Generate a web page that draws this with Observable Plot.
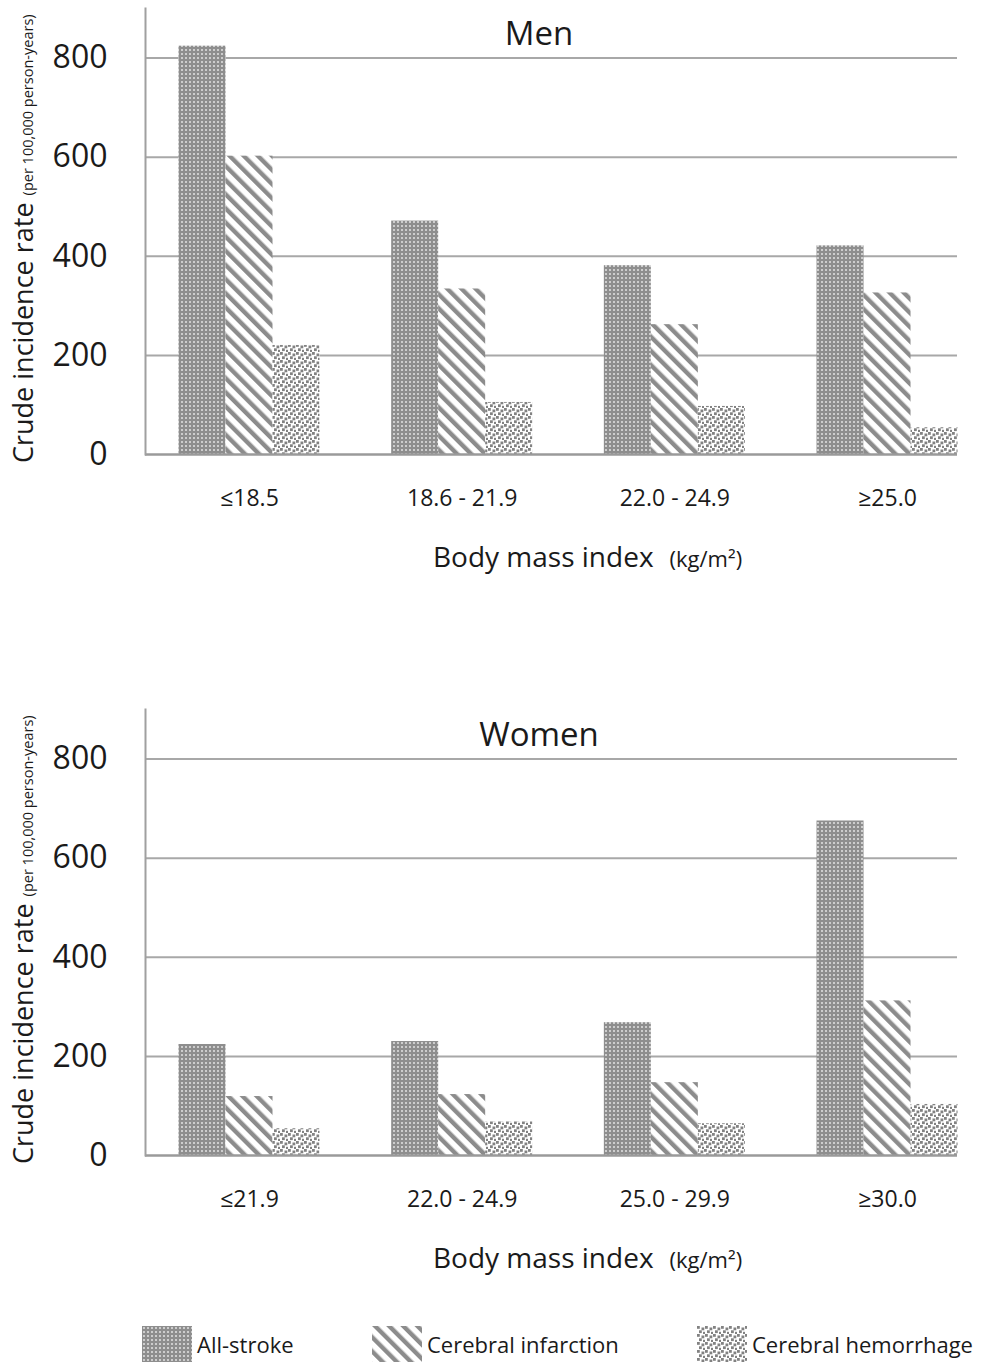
<!DOCTYPE html>
<html>
<head>
<meta charset="utf-8">
<script src="https://cdn.jsdelivr.net/npm/d3@7"></script>
<script src="https://cdn.jsdelivr.net/npm/@observablehq/plot@0.6"></script>
<style>
  body { margin: 0; background: #fff; font-family: "Open Sans", sans-serif; color: #1a1a1a; }
  #wrap { position: relative; width: 981px; height: 1364px; overflow: hidden; }
  #men { position: absolute; left: 0; top: 0; }
  #women { position: absolute; left: 0; top: 701px; }
  .leg { position: absolute; top: 1326px; height: 36px; display: flex; align-items: center; font-size: 22px; color: #1a1a1a; white-space: nowrap; }
  .leg svg { display: block; margin-right: 5px; }
</style>
</head>
<body>
<svg width="0" height="0" style="position:absolute">
  <defs>
    <pattern id="pat-all" patternUnits="userSpaceOnUse" width="4" height="4">
      <rect width="4" height="4" fill="#8e8e8e"/>
      <rect x="1" y="1" width="2" height="2" fill="#cdcdcd"/>
    </pattern>
    <pattern id="pat-inf" patternUnits="userSpaceOnUse" width="10" height="10" patternTransform="rotate(-45)">
      <rect width="10" height="10" fill="#ffffff"/>
      <rect width="4.4" height="10" fill="#8c8c8c"/>
    </pattern>
    <pattern id="pat-hem" patternUnits="userSpaceOnUse" width="8" height="8">
      <rect width="8" height="8" fill="#ffffff"/>
      <rect x="0" y="0" width="2.8" height="2.8" fill="#828282"/>
      <rect x="4.5" y="1.5" width="2.8" height="2.8" fill="#828282"/>
      <rect x="2" y="4.3" width="2.8" height="2.8" fill="#828282"/>
      <rect x="6" y="5.8" width="2.8" height="2.8" fill="#828282"/>
    </pattern>
  </defs>
</svg>
<div id="wrap">
  <div id="men"></div>
  <div id="women"></div>
  <div id="legend"></div>
</div>
<script>
// ---- data ----
const series = ["All-stroke", "Cerebral infarction", "Cerebral hemorrhage"];
const seriesFill = ["url(#pat-all)", "url(#pat-inf)", "url(#pat-hem)"];

const menCategories = ["≤18.5", "18.6 - 21.9", "22.0 - 24.9", "≥25.0"];
const menAllStroke = [824, 471, 381, 421];
const menInfarction = [602, 334, 262, 326];
const menHemorrhage = [220, 105, 97, 54];

const womenCategories = ["≤21.9", "22.0 - 24.9", "25.0 - 29.9", "≥30.0"];
const womenAllStroke = [224, 230, 268, 675];
const womenInfarction = [119, 123, 147, 312];
const womenHemorrhage = [54, 68, 64, 103];

const yTicks = [0, 200, 400, 600, 800];
const yDomain = [0, 900];

const yLabelMain = "Crude incidence rate ";
const yLabelSub = "(per 100,000 person-years)";
const xLabelMain = "Body mass index";
const xLabelSub = "(kg/m²)";

// layout: each category occupies one unit on a linear x scale; bars share 0.663 of it
const barWidth = 0.221;
const xDomain = [-0.489, 3.329];

function panel(title, cats, vals) {
  const rows = [];
  cats.forEach((c, i) => series.forEach((s, j) => rows.push({
    cat: c, series: s, value: vals[j][i], fill: seriesFill[j],
    x1: i - 1.5 * barWidth + j * barWidth,
    x2: i - 0.5 * barWidth + j * barWidth
  })));
  const chart = Plot.plot({
    width: 981,
    height: 600,
    marginLeft: 145,
    marginRight: 24,
    marginTop: 8,
    marginBottom: 146,
    style: {fontFamily: '"Open Sans", sans-serif', color: "#1a1a1a", background: "transparent", overflow: "visible"},
    x: {domain: xDomain, axis: null},
    y: {domain: yDomain, axis: null},
    color: {type: "identity"},
    marks: [
      Plot.ruleY(yTicks.filter(d => d > 0), {stroke: "#a8a8a8", strokeWidth: 2}),
      Plot.rect(rows, {x1: "x1", x2: "x2", y1: 0, y2: "value", fill: "fill"}),
      Plot.ruleY([0], {stroke: "#9a9a9a", strokeWidth: 2.5}),
      Plot.frame({anchor: "left", stroke: "#a0a0a0", strokeWidth: 2}),
      Plot.axisY(yTicks, {anchor: "left", tickSize: 0, tickPadding: 38, fontSize: 32, label: null, fill: "#1a1a1a"}),
      Plot.axisX(d3.range(cats.length), {anchor: "bottom", tickSize: 0, tickPadding: 35, fontSize: 23, label: null, fill: "#1a1a1a", tickFormat: i => cats[i]})
    ]
  });
  const svg = d3.select(chart);
  // panel title
  svg.append("text")
    .attr("x", 539).attr("y", 45)
    .attr("text-anchor", "middle")
    .attr("font-size", 33)
    .attr("fill", "#1a1a1a")
    .text(title);
  // y axis label
  const yl = svg.append("text")
    .attr("transform", "translate(33,463) rotate(-90)")
    .attr("text-anchor", "start")
    .attr("fill", "#1a1a1a");
  yl.append("tspan").attr("font-size", 27).text(yLabelMain);
  yl.append("tspan").attr("font-size", 14.5).text(yLabelSub);
  // x axis label
  const xl = svg.append("text")
    .attr("x", 433).attr("y", 567)
    .attr("text-anchor", "start")
    .attr("fill", "#1a1a1a");
  xl.append("tspan").attr("font-size", 28).text(xLabelMain);
  xl.append("tspan").attr("font-size", 22).attr("dx", 16).text(xLabelSub);
  return chart;
}

document.getElementById("men").appendChild(
  panel("Men", menCategories, [menAllStroke, menInfarction, menHemorrhage]));
document.getElementById("women").appendChild(
  panel("Women", womenCategories, [womenAllStroke, womenInfarction, womenHemorrhage]));

// legend
const legendLeft = [142, 372, 697];
const legend = document.getElementById("legend");
series.forEach((s, j) => {
  const item = document.createElement("div");
  item.className = "leg";
  item.style.left = legendLeft[j] + "px";
  item.innerHTML = `<svg width="50" height="36"><rect width="50" height="36" fill="${seriesFill[j]}"/></svg><span>${s}</span>`;
  legend.appendChild(item);
});
</script>
</body>
</html>
